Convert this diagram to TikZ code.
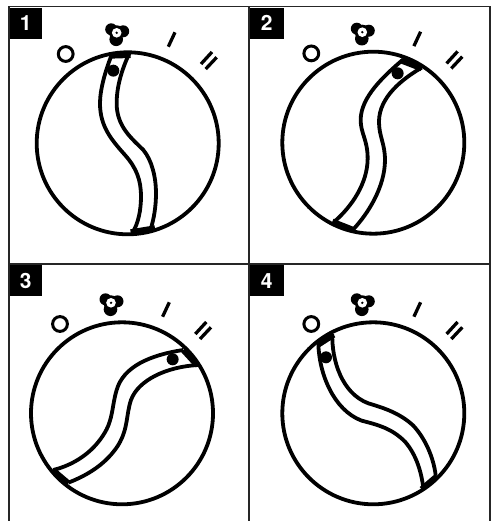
\documentclass[tikz,border=0pt]{standalone}
\usepackage{fontspec}
\setmainfont{TeX Gyre Heros}
\tikzset{
  frame/.style={line width=1.6pt,draw=black!85},
  ink/.style={line width=3.8pt,black},
  slotline/.style={line width=3.8pt,black,line cap=butt},
  slotend/.style={line width=6pt,black},
  numbox/.style={fill=black,text=white,font=\bfseries\fontsize{21}{21}\selectfont,minimum width=32pt,minimum height=31pt,inner sep=0pt,anchor=north west},
  mark line/.style={line width=3.3pt,black},
}
\newcommand{\dialmarks}[2]{%
  \begin{scope}[shift={(#1,#2)}]
    \draw[line width=3pt] (-62,-89.3) circle[radius=7.4];
    \fill (-16.5,-114) circle[radius=6];
    \fill (-4.5,-112) circle[radius=6];
    \fill (-11.5,-104) circle[radius=6.8];
    \fill (-11,-110.5) circle[radius=7.5];
    \fill[white] (-11,-110.5) circle[radius=4.8];
    \fill (-11,-110.5) circle[radius=1.3];
    \draw[mark line] (40.6,-96.6) -- (47.3,-111);
    \draw[mark line] (73.3,-79.3) -- (84.3,-91.3);
    \draw[mark line] (78,-74.3) -- (89,-86);
  \end{scope}}
\newcommand{\dialslot}[8]{%
  \begin{scope}[shift={(#3,#4)},x=0.3333pt,y=-0.3333pt]
    \begin{scope}
      \clip (#1*3-#3*3,#2*3-#4*3) circle[radius=273];
      \draw[slotend] #7;
    \end{scope}
    \draw[slotline] #5;
    \draw[slotline] #6;
    \fill #8 circle[radius=18];
  \end{scope}
  \draw[ink] (#1,#2) circle[radius=91];
  \dialmarks{#1}{#2}}
\begin{document}
\begin{tikzpicture}[x=1pt,y=-1pt]
\useasboundingbox (0,0) rectangle (495,521);
\fill[white] (0,0) rectangle (495,521);
\draw[frame] (9,521) -- (9,6.5) -- (490,6.5) -- (490,521);
\draw[frame] (9,264) -- (490,264);
\draw[frame] (249,6.5) -- (249,521);
\node[numbox] (n1) at (9.5,7.5) {1};
\node[numbox,minimum width=34pt] (n2) at (249.5,7.5) {2};
\node[numbox] (n3) at (9.5,265) {3};
\node[numbox,minimum width=34pt] (n4) at (249.5,265) {4};
\dialslot{127.7}{143.3}{0}{0}
  {(335,165) .. controls (315,215) and (300,270) .. (300,310) .. controls (300,380) and (335,420) .. (375,465) .. controls (410,505) and (423,540) .. (423,590) .. controls (423,630) and (415,670) .. (398,697)}
  {(388,160) .. controls (365,210) and (350,260) .. (350,310) .. controls (350,380) and (395,415) .. (430,450) .. controls (455,480) and (468,530) .. (468,580) .. controls (468,620) and (462,655) .. (452,688)}
  {(330,167)--(392,165) (392,697)--(465,685)}
  {(340,212)}
\dialslot{373.3}{142.7}{245}{0}
  {(475,178) .. controls (420,225) and (347,290) .. (347,360) .. controls (347,400) and (368,420) .. (368,475) .. controls (368,550) and (320,620) .. (268,665)}
  {(530,203) .. controls (475,235) and (402,290) .. (402,365) .. controls (402,410) and (420,430) .. (420,480) .. controls (420,560) and (370,640) .. (325,688)}
  {(470,182)--(530,205) (262,665)--(330,692)}
  {(458,220)}
\dialslot{122}{413.3}{0}{260}
  {(550,270) .. controls (450,285) and (370,320) .. (350,390) .. controls (335,440) and (340,480) .. (310,525) .. controls (275,580) and (220,615) .. (160,630)}
  {(595,315) .. controls (500,320) and (415,360) .. (393,420) .. controls (378,465) and (385,505) .. (355,555) .. controls (320,610) and (265,645) .. (205,668)}
  {(550,270)--(592,316) (158,630)--(205,670)}
  {(518,298)}
\dialslot{373.3}{413.3}{245}{260}
  {(220,250) .. controls (222,340) and (265,450) .. (350,482) .. controls (400,495) and (440,505) .. (480,545) .. controls (515,585) and (530,640) .. (535,685)}
  {(262,222) .. controls (260,300) and (290,400) .. (370,430) .. controls (420,445) and (465,460) .. (505,497) .. controls (540,535) and (565,590) .. (572,645)}
  {(218,255)--(266,224) (530,688)--(577,648)}
  {(243,292)}
\end{tikzpicture}
\end{document}
